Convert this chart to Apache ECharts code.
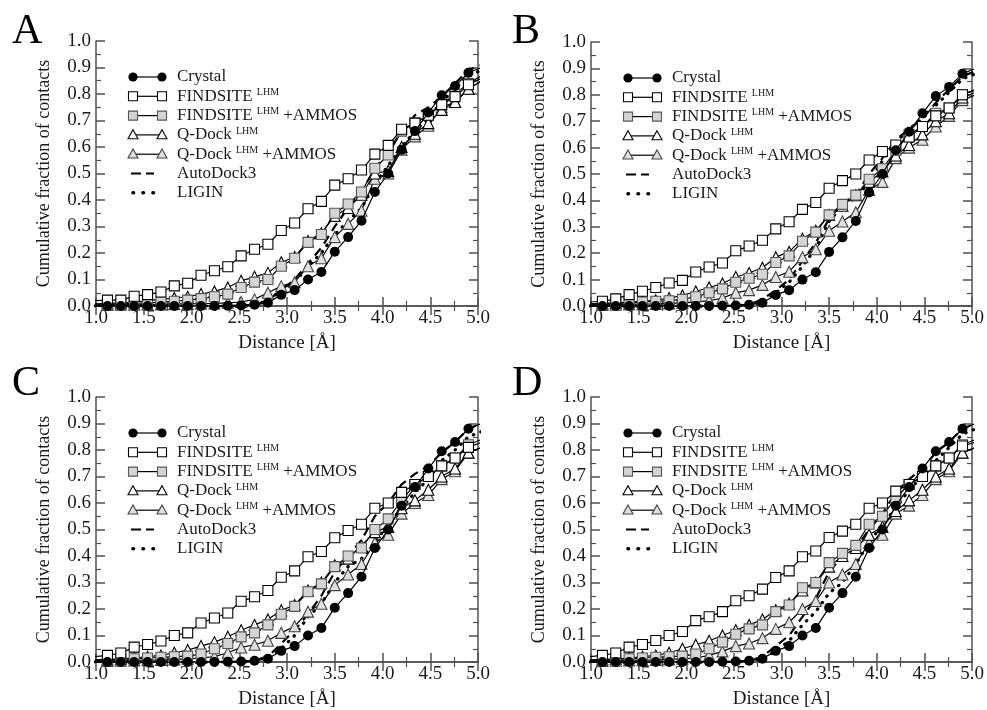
<!DOCTYPE html>
<html>
<head>
<meta charset="utf-8">
<script src="https://cdn.jsdelivr.net/npm/echarts@6/dist/echarts.min.js"></script>
<style>
html,body{margin:0;padding:0;background:#fff;}
#chart{width:987px;height:710px;}
</style>
</head>
<body>
<div id="chart"></div>
<script>
// Distance bins (Å); first and last points lie just outside the axis range and are clipped
const distances = [0.98,1.12,1.26,1.40,1.54,1.68,1.82,1.96,2.10,2.24,2.38,2.52,2.66,2.80,2.94,3.08,3.22,3.36,3.50,3.64,3.78,3.92,4.06,4.20,4.34,4.48,4.62,4.76,4.90,5.04];

const panelLetters = ['A','B','C','D'];
const seriesNames = ['Crystal','FINDSITE LHM','FINDSITE LHM +AMMOS','Q-Dock LHM','Q-Dock LHM +AMMOS','AutoDock3','LIGIN'];
const legendLabels = ['Crystal','FINDSITE {s|LHM}','FINDSITE {s|LHM} +AMMOS','Q-Dock {s|LHM}','Q-Dock {s|LHM} +AMMOS','AutoDock3','LIGIN'];
const xTickLabels = ['1.0','1.5','2.0','2.5','3.0','3.5','4.0','4.5','5.0'];
const yTickLabels = ['0.0','0.1','0.2','0.3','0.4','0.5','0.6','0.7','0.8','0.9','1.0'];

// Crystal (same reference in all panels)
const crystal = [0,0,0,0,0,0,0,0,0,0,0.001,0.002,0.005,0.012,0.042,0.06,0.10,0.128,0.205,0.26,0.322,0.43,0.50,0.59,0.66,0.73,0.795,0.83,0.88,0.90];

// Panel A
const findsiteA   = [0.02,0.022,0.022,0.037,0.043,0.053,0.076,0.086,0.116,0.133,0.148,0.189,0.214,0.233,0.285,0.313,0.367,0.395,0.456,0.48,0.513,0.573,0.606,0.667,0.69,0.72,0.76,0.79,0.835,0.86];
const findsiteAmA = [0.004,0.005,0.008,0.01,0.012,0.015,0.018,0.022,0.028,0.035,0.045,0.07,0.09,0.10,0.15,0.18,0.24,0.27,0.35,0.385,0.43,0.52,0.57,0.66,0.69,0.72,0.76,0.80,0.84,0.87];
const qdockA      = [0.008,0.01,0.012,0.015,0.02,0.025,0.03,0.035,0.045,0.055,0.07,0.095,0.11,0.125,0.165,0.185,0.245,0.275,0.34,0.37,0.42,0.50,0.51,0.60,0.65,0.69,0.74,0.77,0.82,0.85];
const qdockAmA    = [0.003,0.004,0.005,0.005,0.006,0.006,0.007,0.008,0.009,0.01,0.012,0.015,0.025,0.05,0.075,0.09,0.15,0.18,0.26,0.31,0.36,0.48,0.50,0.59,0.64,0.68,0.75,0.77,0.82,0.85];
const autodockA   = [0,0,0,0,0,0,0,0,0,0,0,0.002,0.005,0.02,0.06,0.10,0.16,0.22,0.30,0.37,0.43,0.52,0.58,0.66,0.72,0.75,0.79,0.84,0.89,0.91];
const liginA      = [0,0,0,0,0,0,0,0,0,0,0,0.001,0.004,0.02,0.06,0.09,0.15,0.20,0.27,0.32,0.37,0.46,0.53,0.60,0.66,0.71,0.77,0.82,0.87,0.89];

// Panel B
const findsiteB   = [0.015,0.018,0.027,0.043,0.056,0.07,0.087,0.097,0.129,0.148,0.163,0.209,0.227,0.249,0.292,0.319,0.366,0.392,0.446,0.475,0.50,0.553,0.585,0.61,0.64,0.68,0.72,0.75,0.80,0.82];
const findsiteAmB = [0.006,0.008,0.01,0.012,0.015,0.018,0.02,0.025,0.035,0.05,0.065,0.09,0.105,0.12,0.165,0.19,0.245,0.28,0.345,0.385,0.42,0.48,0.52,0.59,0.65,0.68,0.73,0.75,0.80,0.82];
const qdockB      = [0.008,0.01,0.012,0.015,0.018,0.022,0.03,0.04,0.055,0.07,0.085,0.11,0.125,0.145,0.185,0.205,0.255,0.285,0.345,0.38,0.42,0.47,0.51,0.57,0.61,0.65,0.70,0.73,0.79,0.81];
const qdockAmB    = [0.003,0.004,0.005,0.006,0.007,0.008,0.01,0.012,0.015,0.02,0.03,0.05,0.06,0.08,0.11,0.13,0.185,0.215,0.285,0.32,0.355,0.44,0.47,0.56,0.60,0.63,0.68,0.72,0.78,0.80];
const autodockB   = [0,0,0,0,0,0,0,0,0,0,0,0.002,0.005,0.025,0.06,0.10,0.17,0.24,0.33,0.39,0.42,0.50,0.56,0.63,0.67,0.71,0.77,0.82,0.87,0.89];
const liginB      = [0,0,0,0,0,0,0,0,0,0,0,0.001,0.004,0.015,0.05,0.09,0.15,0.22,0.32,0.38,0.41,0.47,0.55,0.62,0.67,0.71,0.76,0.81,0.86,0.88];

// Panel C
const findsiteC   = [0.02,0.025,0.034,0.056,0.066,0.079,0.10,0.11,0.147,0.166,0.185,0.229,0.246,0.27,0.32,0.344,0.397,0.417,0.469,0.496,0.52,0.58,0.60,0.64,0.67,0.70,0.74,0.77,0.81,0.83];
const findsiteAmC = [0.006,0.008,0.01,0.012,0.015,0.018,0.02,0.022,0.03,0.05,0.07,0.095,0.11,0.14,0.18,0.21,0.265,0.295,0.36,0.40,0.43,0.50,0.54,0.61,0.67,0.70,0.74,0.77,0.82,0.84];
const qdockC      = [0.008,0.01,0.012,0.015,0.02,0.025,0.035,0.045,0.06,0.075,0.095,0.12,0.14,0.16,0.195,0.215,0.27,0.30,0.365,0.39,0.44,0.49,0.51,0.58,0.61,0.65,0.70,0.73,0.79,0.81];
const qdockAmC    = [0.003,0.004,0.005,0.006,0.007,0.008,0.01,0.012,0.015,0.02,0.035,0.055,0.065,0.08,0.11,0.135,0.19,0.22,0.29,0.33,0.37,0.45,0.48,0.56,0.60,0.63,0.69,0.72,0.79,0.81];
const autodockC   = [0,0,0,0,0,0,0,0,0,0,0,0.002,0.005,0.02,0.07,0.12,0.18,0.25,0.34,0.40,0.46,0.55,0.60,0.67,0.71,0.74,0.79,0.83,0.88,0.90];
const liginC      = [0,0,0,0,0,0,0,0,0,0,0,0.001,0.004,0.02,0.05,0.10,0.17,0.22,0.30,0.36,0.39,0.45,0.52,0.58,0.64,0.69,0.76,0.80,0.85,0.87];

// Panel D
const findsiteD   = [0.02,0.025,0.034,0.056,0.066,0.081,0.10,0.115,0.156,0.171,0.19,0.231,0.25,0.275,0.319,0.344,0.397,0.419,0.47,0.494,0.52,0.58,0.60,0.645,0.67,0.70,0.74,0.77,0.815,0.83];
const findsiteAmD = [0.006,0.008,0.01,0.012,0.015,0.018,0.02,0.022,0.03,0.05,0.075,0.105,0.125,0.14,0.19,0.215,0.28,0.30,0.375,0.41,0.44,0.52,0.55,0.62,0.67,0.70,0.74,0.77,0.82,0.84];
const qdockD      = [0.008,0.01,0.012,0.015,0.02,0.025,0.035,0.05,0.065,0.08,0.10,0.12,0.14,0.16,0.195,0.22,0.27,0.30,0.36,0.40,0.43,0.48,0.51,0.57,0.61,0.65,0.70,0.73,0.79,0.81];
const qdockAmD    = [0.003,0.004,0.005,0.006,0.007,0.008,0.01,0.012,0.015,0.025,0.04,0.06,0.07,0.09,0.125,0.15,0.20,0.23,0.30,0.33,0.37,0.45,0.48,0.56,0.59,0.63,0.69,0.72,0.79,0.81];
const autodockD   = [0,0,0,0,0,0,0,0,0,0,0,0.002,0.005,0.02,0.06,0.10,0.17,0.24,0.34,0.40,0.43,0.50,0.56,0.64,0.69,0.73,0.79,0.83,0.88,0.90];
const liginD      = [0,0,0,0,0,0,0,0,0,0,0,0.001,0.003,0.015,0.04,0.08,0.14,0.19,0.26,0.30,0.37,0.45,0.52,0.58,0.65,0.70,0.76,0.81,0.86,0.88];

const panels = [
  [crystal, findsiteA, findsiteAmA, qdockA, qdockAmA, autodockA, liginA],
  [crystal, findsiteB, findsiteAmB, qdockB, qdockAmB, autodockB, liginB],
  [crystal, findsiteC, findsiteAmC, qdockC, qdockAmC, autodockC, liginC],
  [crystal, findsiteD, findsiteAmD, qdockD, qdockAmD, autodockD, liginD]
];

const FONT = 'Liberation Serif';
const TXT = '#1a1a1a';
const FRAME = '#505050';
const grids = [
  {left: 96, top: 41, width: 382, height: 265},
  {left: 591, top: 42, width: 381, height: 264},
  {left: 96, top: 397, width: 382, height: 268},
  {left: 591, top: 397, width: 381, height: 268}
];
const letterPos = [[12, 32], [512, 32], [12, 384], [512, 384]];

const styles = [
  {symbol: 'circle', size: 10, fill: '#000', stroke: '#000', dash: 'solid'},
  {symbol: 'rect', size: 10, fill: '#fff', stroke: '#000', dash: 'solid'},
  {symbol: 'rect', size: 10, fill: '#d4d4d4', stroke: '#555', dash: 'solid'},
  {symbol: 'triangle', size: 11, fill: '#fff', stroke: '#000', dash: 'solid'},
  {symbol: 'triangle', size: 11, fill: '#e0e0e0', stroke: '#444', dash: 'solid'},
  {symbol: 'none', dash: [9, 6]},
  {symbol: 'none', dash: [0.5, 7.5]}
];

const xAxes = [], yAxes = [], series = [], graphics = [];
grids.forEach((g, i) => {
  const axisLine = {show: true, lineStyle: {color: FRAME, width: 1.5}};
  const tick = {show: true, inside: true, length: 9, lineStyle: {color: FRAME, width: 1.5}};
  const minor = {show: true, splitNumber: 2, length: 5, lineStyle: {color: FRAME, width: 1.2}};
  xAxes.push({
    type: 'value', gridIndex: i, min: 1, max: 5, interval: 0.5, position: 'bottom',
    axisLine, axisTick: tick, minorTick: minor, splitLine: {show: false},
    axisLabel: {fontFamily: FONT, fontSize: 19, color: TXT, margin: 3,
      formatter: v => xTickLabels[Math.round((v - 1) / 0.5)]},
    name: 'Distance [Å]', nameLocation: 'middle', nameGap: 28,
    nameTextStyle: {fontFamily: FONT, fontSize: 19, color: TXT}
  });
  xAxes.push({
    type: 'value', gridIndex: i, min: 1, max: 5, interval: 0.5, position: 'top',
    axisLine, axisTick: tick, minorTick: minor, splitLine: {show: false},
    axisLabel: {show: false}
  });
  yAxes.push({
    type: 'value', gridIndex: i, min: 0, max: 1, interval: 0.1, position: 'left',
    axisLine, axisTick: tick, minorTick: minor, splitLine: {show: false},
    axisLabel: {fontFamily: FONT, fontSize: 19, color: TXT, margin: 5,
      formatter: v => yTickLabels[Math.round(v * 10)]},
    name: 'Cumulative fraction of contacts', nameLocation: 'middle', nameGap: 43,
    nameTextStyle: {fontFamily: FONT, fontSize: 18, color: TXT}
  });
  yAxes.push({
    type: 'value', gridIndex: i, min: 0, max: 1, interval: 0.1, position: 'right',
    axisLine, axisTick: tick, minorTick: minor, splitLine: {show: false},
    axisLabel: {show: false}
  });

  panels[i].forEach((vals, k) => {
    const st = styles[k];
    const s = {
      type: 'line', name: seriesNames[k], xAxisIndex: 2 * i, yAxisIndex: 2 * i,
      data: distances.map((d, j) => [d, vals[j]]),
      clip: true, animation: false, silent: true,
      z: 10 - k,
      lineStyle: {color: '#000', width: k >= 5 ? 2.2 : 1.2, type: st.dash, cap: k === 6 ? 'round' : 'butt'},
    };
    if (k === 6) s.lineStyle.width = 3.2;
    if (st.symbol === 'none') {
      s.symbol = 'none';
    } else {
      s.symbol = st.symbol;
      s.symbolSize = st.size;
      s.showAllSymbol = true;
      s.itemStyle = {color: st.fill, borderColor: st.stroke, borderWidth: k === 0 ? 0 : 1.1};
    }
    series.push(s);
  });

  // Panel letter
  graphics.push({
    type: 'text', x: letterPos[i][0], y: letterPos[i][1],
    style: {text: panelLetters[i], fontFamily: FONT, fontSize: 42, fill: '#000', verticalAlign: 'middle'}
  });

  // Legend
  const lx = g.left + 37, ly = g.top + 36, rowH = 19.3;
  const children = [];
  legendLabels.forEach((lab, k) => {
    const y = ly + k * rowH;
    const st = styles[k];
    const x1 = lx, x2 = lx + 29;
    if (k < 5) {
      children.push({type: 'line', shape: {x1, y1: y, x2, y2: y}, style: {stroke: '#000', lineWidth: 1.2}});
      [x1, x2].forEach(cx => {
        if (st.symbol === 'circle') {
          children.push({type: 'circle', shape: {cx, cy: y, r: 4.6}, style: {fill: '#000'}});
        } else if (st.symbol === 'rect') {
          children.push({type: 'rect', shape: {x: cx - 4.5, y: y - 4.5, width: 9, height: 9}, style: {fill: st.fill, stroke: st.stroke, lineWidth: 1.1}});
        } else {
          children.push({type: 'polygon', shape: {points: [[cx, y - 5.2], [cx + 5, y + 3.8], [cx - 5, y + 3.8]]}, style: {fill: st.fill, stroke: st.stroke, lineWidth: 1.1}});
        }
      });
    } else if (k === 5) {
      children.push({type: 'line', shape: {x1: x1 - 2, y1: y, x2: x2 - 8, y2: y}, style: {stroke: '#000', lineWidth: 2.2, lineDash: [10, 5]}});
    } else {
      children.push({type: 'line', shape: {x1: x1, y1: y, x2: x2 - 8, y2: y}, style: {stroke: '#000', lineWidth: 3.6, lineDash: [0.5, 9.5], lineCap: 'round'}});
    }
    children.push({
      type: 'text', x: lx + 44, y: y,
      style: {text: lab, fontFamily: FONT, fontSize: 17, fill: TXT, verticalAlign: 'middle', lineHeight: 18,
        rich: {s: {fontFamily: FONT, fontSize: 10, fill: TXT, verticalAlign: 'top', lineHeight: 10}}}
    });
  });
  graphics.push({type: 'group', children, z: 100});
});

const chart = echarts.init(document.getElementById('chart'), null, {renderer: 'canvas'});
chart.setOption({
  backgroundColor: '#fff',
  animation: false,
  grid: grids.map(g => Object.assign({containLabel: false}, g)),
  xAxis: xAxes,
  yAxis: yAxes,
  series,
  graphic: graphics
});
</script>
</body>
</html>
